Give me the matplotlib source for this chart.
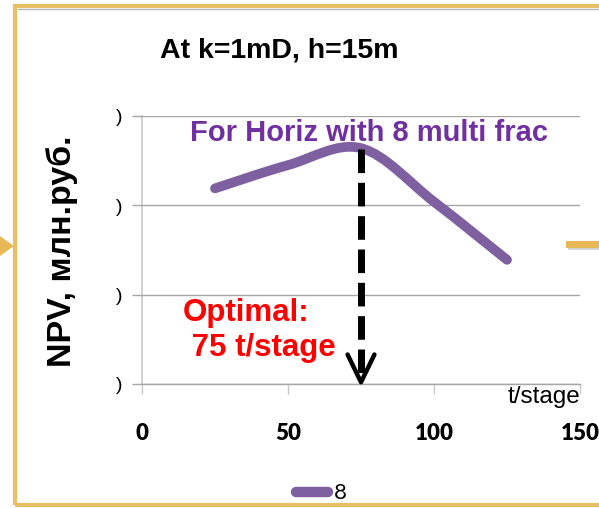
import numpy as np
import matplotlib
matplotlib.use("Agg")
import matplotlib.pyplot as plt
from matplotlib.path import Path
from matplotlib.patches import PathPatch, Rectangle, Polygon
from matplotlib.lines import Line2D

# NPV vs proppant mass per stage, horizontal well with 8 fracs
tonnage = [25, 50, 75, 100, 125]
npv = [2.19, 2.45, 2.64, 2.04, 1.39]
x_ticks = [0, 50, 100, 150]
y_ticks = [0, 1, 2, 3]
optimal_t = 75
series_name = "8"

title = "At k=1mD, h=15m"
note = "For Horiz with 8 multi frac"
opt_note = "Optimal:\n 75 t/stage"
ylabel = "NPV, млн.руб."
xunit = "t/stage"

purple = "#7E60A0"
gold = "#E6C062"
grid_c = "#A6A6A6"

plt.rcParams['font.family'] = ['Liberation Sans', 'DejaVu Sans']

fig = plt.figure(figsize=(5.99, 5.08), dpi=100)
W, H = 599, 508


def fx(px):
    return px / W


def fy(py):
    return 1 - py / H


# slide frame
fig.patches.append(Rectangle((fx(15.3), fy(504.7)), fx(620) - fx(15.3), fy(5.5) - fy(504.7),
                             transform=fig.transFigure, fill=False, ec=gold, lw=3.0))
fig.lines.append(Line2D([fx(18), fx(599)], [fy(9.0), fy(9.0)], transform=fig.transFigure,
                        color="#B8B8B8", lw=1.0))
fig.patches.append(Polygon([[fx(0), fy(236)], [fx(14), fy(246)], [fx(0), fy(256)]],
                           closed=True, transform=fig.transFigure, color="#E8B955", lw=0))
fig.lines.append(Line2D([fx(571), fx(599)], [fy(247), fy(247)], transform=fig.transFigure,
                        color="#D0D0D0", lw=4))
fig.lines.append(Line2D([fx(569), fx(599)], [fy(243.5), fy(243.5)], transform=fig.transFigure,
                        color="#E8B955", lw=5))

ax = fig.add_axes([fx(142), fy(384), fx(580) - fx(142), fy(116) - fy(384)])
ax.set_xlim(0, 150)
ax.set_ylim(0, 3)

for s in ["top", "right"]:
    ax.spines[s].set_visible(False)
ax.spines["left"].set_color("#C8C8C8")
ax.spines["left"].set_linewidth(1.2)
ax.spines["bottom"].set_color(grid_c)
ax.spines["bottom"].set_linewidth(1.0)
ax.spines["left"].set_zorder(0)

ax.set_yticks(y_ticks)
ax.set_yticklabels([")"] * len(y_ticks), fontsize=14)
ax.yaxis.grid(True, color=grid_c, lw=1.0)
ax.tick_params(axis="y", length=7, color=grid_c, width=1, pad=7)
ax.set_xticks(x_ticks)
ax.set_xticklabels([str(v) for v in x_ticks], fontsize=16, fontweight="heavy", family="Lato")
ax.tick_params(axis="x", length=7, color="#C8C8C8", width=1, pad=21)

# smoothed series line built from bezier segments through the data points
pts = np.column_stack([tonnage, npv]).astype(float)
ext = np.vstack([pts[0], pts, pts[-1]])
verts = [tuple(pts[0])]
codes = [Path.MOVETO]
for i in range(len(pts) - 1):
    p0, p1, p2, p3 = ext[i], ext[i + 1], ext[i + 2], ext[i + 3]
    c1 = p1 + (p2 - p0) / 6
    c2 = p2 - (p3 - p1) / 6
    verts += [tuple(c1), tuple(c2), tuple(p2)]
    codes += [Path.CURVE4] * 3
ax.add_patch(PathPatch(Path(verts, codes), fill=False, ec=purple, lw=7,
                       capstyle="round", joinstyle="round", zorder=3))

# optimum marker
peak = max(npv) - 0.01
ax.plot([optimal_t, optimal_t], [peak, 0.12], color="black", lw=5,
        dashes=(3.4, 1.4), zorder=4, solid_capstyle="butt", dash_capstyle="butt")
ax.plot([optimal_t - 4.6, optimal_t, optimal_t + 4.6], [0.33, 0.02, 0.33], color="black",
        lw=3.2, zorder=4, solid_joinstyle="round", solid_capstyle="round", clip_on=False)

ax.text(14, 0.60, opt_note, color="#FF0000", fontsize=22.5, fontweight="bold",
        ha="left", va="center", linespacing=1.2, zorder=5)
ax.text(16.5, 2.81, note, color="#7030A0", fontsize=21, fontweight="bold",
        ha="left", va="center", zorder=5)
ax.text(150, -0.02, xunit, fontsize=17.5, ha="right", va="top")

fig.text(fx(160), fy(50), title, fontsize=20.5, fontweight="bold", ha="left", va="center")
fig.text(fx(62), fy(251), ylabel, fontsize=24.5, fontweight="bold", rotation=90,
         ha="center", va="center")

# legend
fig.lines.append(Line2D([fx(296), fx(328)], [fy(491.5), fy(491.5)], transform=fig.transFigure,
                        color=purple, lw=7.5, solid_capstyle="round"))
fig.text(fx(334), fy(493), series_name, fontsize=16, family="Lato", ha="left", va="center")

fig.savefig("out.png", dpi=100)
